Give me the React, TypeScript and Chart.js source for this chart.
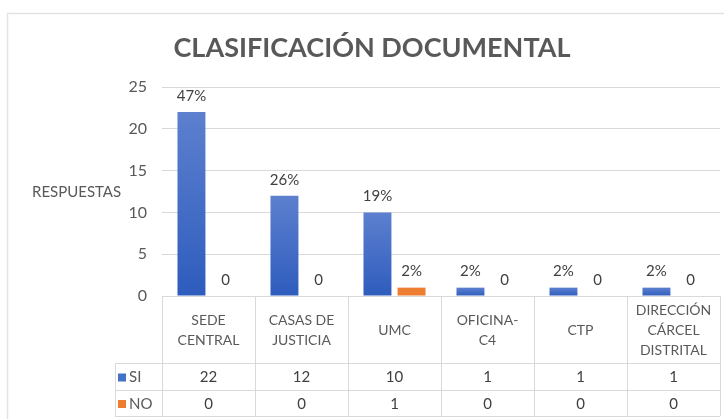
import React, { useEffect, useRef } from 'react';
import { Chart, registerables } from 'chart.js';

Chart.register(...registerables);

const TITLE = 'CLASIFICACIÓN DOCUMENTAL';
const Y_AXIS_LABEL = 'RESPUESTAS';
const categories: string[][] = [
  ['SEDE', 'CENTRAL'],
  ['CASAS DE', 'JUSTICIA'],
  ['UMC'],
  ['OFICINA-', 'C4'],
  ['CTP'],
  ['DIRECCIÓN', 'CÁRCEL', 'DISTRITAL'],
];
const seriesNames = ['SI', 'NO'];
const siValues = [22, 12, 10, 1, 1, 1];
const noValues = [0, 0, 1, 0, 0, 0];
const siLabels = ['47%', '26%', '19%', '2%', '2%', '2%'];
const noLabels = ['0', '0', '2%', '0', '0', '0'];
const Y_MAX = 25;
const Y_STEP = 5;

const FONT = 'Lato, "Open Sans", sans-serif';
const TEXT = '#595959';
const GRID = '#d9d9d9';
const SI_COLOR = '#4472c4';
const NO_COLOR = '#ed7d31';

const siGradient = (ctx: any) => {
  const chart = ctx.chart;
  const area = chart.chartArea;
  if (!area || ctx.parsed == null) return SI_COLOR;
  const y = chart.scales.y;
  const top = y.getPixelForValue(ctx.parsed.y);
  const bottom = y.getPixelForValue(0);
  if (!isFinite(top) || bottom - top < 1) return SI_COLOR;
  const g = chart.ctx.createLinearGradient(0, top, 0, bottom);
  g.addColorStop(0, '#5d80cf');
  g.addColorStop(1, '#2e5cbd');
  return g;
};

const extrasPlugin = {
  id: 'excelExtras',
  beforeDraw(chart: any) {
    const { ctx, width, height } = chart;
    ctx.save();
    ctx.fillStyle = '#ffffff';
    ctx.fillRect(0, 0, width, height);
    ctx.strokeStyle = '#e3e3e3';
    ctx.lineWidth = 1.5;
    ctx.strokeRect(7.5, 13.5, width + 20, height + 20);
    ctx.restore();
  },
  afterDraw(chart: any) {
    const { ctx, chartArea, scales } = chart;
    const x = scales.x;
    const n = categories.length;
    ctx.save();

    // Title
    ctx.font = `bold 27px ${FONT}`;
    ctx.fillStyle = TEXT;
    ctx.textAlign = 'center';
    ctx.textBaseline = 'middle';
    ctx.fillText(TITLE, 372, 48);

    // Y axis label (horizontal)
    ctx.font = `15px ${FONT}`;
    ctx.textAlign = 'left';
    ctx.fillText(Y_AXIS_LABEL, 32, 192);

    // Data labels
    ctx.font = `15px ${FONT}`;
    ctx.fillStyle = '#404040';
    ctx.textAlign = 'center';
    const labelSets = [siLabels, noLabels];
    chart.data.datasets.forEach((_: any, di: number) => {
      const meta = chart.getDatasetMeta(di);
      meta.data.forEach((el: any, i: number) => {
        ctx.fillText(labelSets[di][i], el.x, el.y - 16);
      });
    });

    // Data table
    const right = chartArea.right;
    const top = chartArea.bottom;
    const headerBottom = top + 67;
    const row1Bottom = headerBottom + 27;
    const row2Bottom = row1Bottom + 26;
    const legendLeft = 115;
    const bounds: number[] = [];
    for (let i = 0; i <= n; i++) bounds.push(x.getPixelForValue(i - 0.5));

    ctx.strokeStyle = GRID;
    ctx.lineWidth = 1;
    ctx.beginPath();
    bounds.forEach((bx) => {
      const px = Math.round(bx) + 0.5;
      ctx.moveTo(px, top);
      ctx.lineTo(px, row2Bottom);
    });
    [headerBottom, row1Bottom, row2Bottom].forEach((yy) => {
      const py = Math.round(yy) + 0.5;
      ctx.moveTo(legendLeft, py);
      ctx.lineTo(right, py);
    });
    ctx.moveTo(legendLeft + 0.5, headerBottom);
    ctx.lineTo(legendLeft + 0.5, row2Bottom);
    ctx.stroke();

    // Header labels
    ctx.font = `14px ${FONT}`;
    ctx.fillStyle = TEXT;
    ctx.textAlign = 'center';
    ctx.textBaseline = 'middle';
    const headerMid = (top + headerBottom) / 2 + 1;
    categories.forEach((lines, i) => {
      const cx = (bounds[i] + bounds[i + 1]) / 2;
      const lh = 20;
      const start = headerMid - ((lines.length - 1) * lh) / 2;
      lines.forEach((ln, j) => ctx.fillText(ln, cx, start + j * lh));
    });

    // Rows
    const rows = [siValues, noValues];
    const colors = [SI_COLOR, NO_COLOR];
    const rowMids = [(headerBottom + row1Bottom) / 2 + 1, (row1Bottom + row2Bottom) / 2 + 1];
    rows.forEach((vals, r) => {
      const cy = rowMids[r];
      ctx.fillStyle = colors[r];
      ctx.fillRect(legendLeft + 3, cy - 4, 8, 8);
      ctx.fillStyle = TEXT;
      ctx.textAlign = 'left';
      ctx.font = `15px ${FONT}`;
      ctx.fillText(seriesNames[r], legendLeft + 14, cy);
      ctx.textAlign = 'center';
      ctx.fillStyle = '#404040';
      vals.forEach((v, i) => {
        ctx.fillText(String(v), (bounds[i] + bounds[i + 1]) / 2, cy);
      });
    });

    ctx.restore();
  },
};

export default function App() {
  const ref = useRef<HTMLCanvasElement | null>(null);
  useEffect(() => {
    if (!ref.current) return;
    const chart = new Chart(ref.current, {
      type: 'bar',
      data: {
        labels: categories,
        datasets: [
          { label: seriesNames[0], data: siValues, backgroundColor: siGradient, borderWidth: 0 },
          { label: seriesNames[1], data: noValues, backgroundColor: NO_COLOR, borderWidth: 0 },
        ],
      },
      options: {
        responsive: false,
        animation: false,
        devicePixelRatio: 1,
        categoryPercentage: 0.733,
        barPercentage: 0.82,
        layout: { padding: { top: 87, right: 4, bottom: 123, left: 0 } },
        plugins: {
          legend: { display: false },
          tooltip: { enabled: false },
          title: { display: false },
        },
        scales: {
          x: { display: false },
          y: {
            min: 0,
            max: Y_MAX,
            ticks: {
              stepSize: Y_STEP,
              padding: 15,
              color: TEXT,
              font: { family: FONT, size: 16 },
            },
            grid: { color: GRID, drawTicks: false },
            border: { display: false },
            afterFit(scale: any) {
              scale.width = 162;
            },
          },
        },
      },
      plugins: [extrasPlugin],
    } as any);
    return () => chart.destroy();
  }, []);

  return (
    <div style={{ position: 'fixed', left: 0, top: 0, width: 724, height: 419, background: '#fff' }}>
      <canvas ref={ref} width={724} height={419} style={{ display: 'block' }} />
    </div>
  );
}
